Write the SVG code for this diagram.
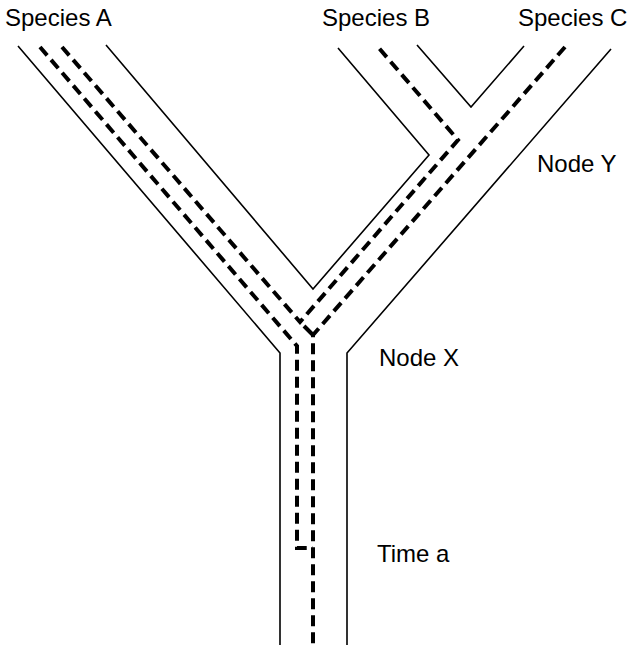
<svg xmlns="http://www.w3.org/2000/svg" width="628" height="649" viewBox="0 0 628 649">
  <style>
    .wall { fill: none; stroke: #000; stroke-width: 1.6; stroke-linejoin: miter; }
    .lineage { fill: none; stroke: #000; stroke-width: 4; stroke-dasharray: 11 6; stroke-linejoin: miter; }
    .label { font-family: "Liberation Sans", Arial, sans-serif; font-size: 24px; fill: #000; }
  </style>
  <rect width="628" height="649" fill="#fff"/>

  <!-- species tree outline (tube walls) -->
  <g id="species-tree">
    <path class="wall" d="M18,46 L280,353 L280,645"/>
    <path class="wall" d="M106,45 L313,289 L429,155 L338,48"/>
    <path class="wall" d="M417,45 L471,107 L524,46"/>
    <path class="wall" d="M611,49 L347,353 L347,645"/>
  </g>

  <!-- gene lineages inside the species tree -->
  <g id="gene-lineages">
    <path class="lineage" d="M40,47 L297,346 L297,548 L313,548"/>
    <path class="lineage" d="M62,47 L300,322 L458,140 L378,47"/>
    <path class="lineage" d="M565,47 L313,335 L313,645"/>
    <path class="lineage" d="M304,326 L313,335" style="stroke-dasharray:none"/>
  </g>

  <g id="label-species-a"><text class="label" x="5" y="26">Species A</text></g>
  <g id="label-species-b"><text class="label" x="322" y="26">Species B</text></g>
  <g id="label-species-c"><text class="label" x="518" y="26">Species C</text></g>
  <g id="label-node-y"><text class="label" x="537" y="172">Node Y</text></g>
  <g id="label-node-x"><text class="label" x="379" y="366">Node X</text></g>
  <g id="label-time-a"><text class="label" x="377" y="562">Time a</text></g>
</svg>
